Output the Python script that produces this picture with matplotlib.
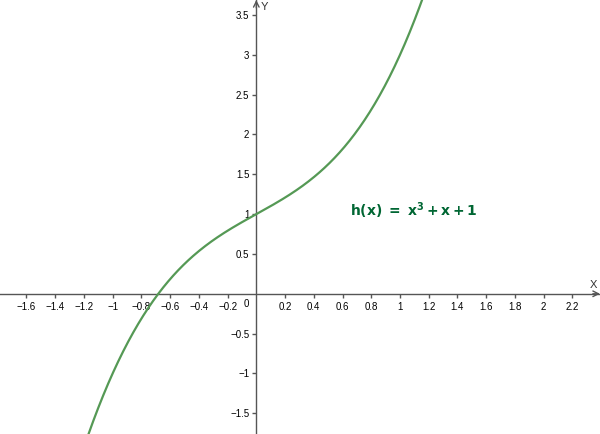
import numpy as np
import matplotlib.pyplot as plt

# function shown in the picture: h(x) = x^3 + x + 1
coeffs = [1, 0, 1, 1]
x_ticks = [-1.6, -1.4, -1.2, -1, -0.8, -0.6, -0.4, -0.2, 0.2, 0.4, 0.6, 0.8, 1, 1.2, 1.4, 1.6, 1.8, 2, 2.2]
y_ticks = [-1.5, -1, -0.5, 0.5, 1, 1.5, 2, 2.5, 3, 3.5]

plt.rcParams['font.family'] = ['Liberation Sans', 'DejaVu Sans']

xmin, xmax = -1.784, 2.392
ymin, ymax = -1.76, 3.688

fig = plt.figure(figsize=(6, 4.34), dpi=100)
ax = fig.add_axes([0, 0, 1, 1])
ax.set_xlim(xmin, xmax)
ax.set_ylim(ymin, ymax)

xs = np.linspace(xmin, xmax, 600)
ax.plot(xs, np.polyval(coeffs, xs), color='#559955', lw=1.6, zorder=3)

axcol = '#555555'
for s in ['top', 'right']:
    ax.spines[s].set_visible(False)
ax.spines['left'].set_position(('data', 0))
ax.spines['bottom'].set_position(('data', 0))
for s in ['left', 'bottom']:
    ax.spines[s].set_color(axcol)
    ax.spines[s].set_linewidth(1)

ax.set_xticks(x_ticks)
ax.set_xticklabels([f'{v:g}'.replace('-', '\u2212') for v in x_ticks])
ax.set_yticks(y_ticks)
ax.set_yticklabels([f'{v:g}'.replace('-', '\u2212') for v in y_ticks])
ax.tick_params(axis='both', direction='out', length=3, width=1, color=axcol,
               labelsize=7, labelcolor='black', pad=2)
ax.tick_params(axis='x', pad=3)

# arrows at the ends of the axes
ax.annotate('', xy=(xmax, 0), xytext=(xmax - 0.05, 0),
            arrowprops=dict(arrowstyle='->', color=axcol, lw=1, shrinkA=0, shrinkB=0))
ax.annotate('', xy=(0, ymax), xytext=(0, ymax - 0.1),
            arrowprops=dict(arrowstyle='->', color=axcol, lw=1, shrinkA=0, shrinkB=0))

ax.text(2.37, 0.05, 'X', fontsize=8, color='#333333', ha='right', va='bottom')
ax.text(0.03, ymax - 0.02, 'Y', fontsize=8, color='#333333', ha='left', va='top')
ax.text(-0.07, -0.06, '0', fontsize=7, ha='center', va='top')

ax.text(0.65, 1.04, r'$\mathbf{h(x)\ =\ x^3+x+1}$', fontsize=10,
        color='#006633', ha='left', va='center')

fig.savefig('out.png', dpi=100)
